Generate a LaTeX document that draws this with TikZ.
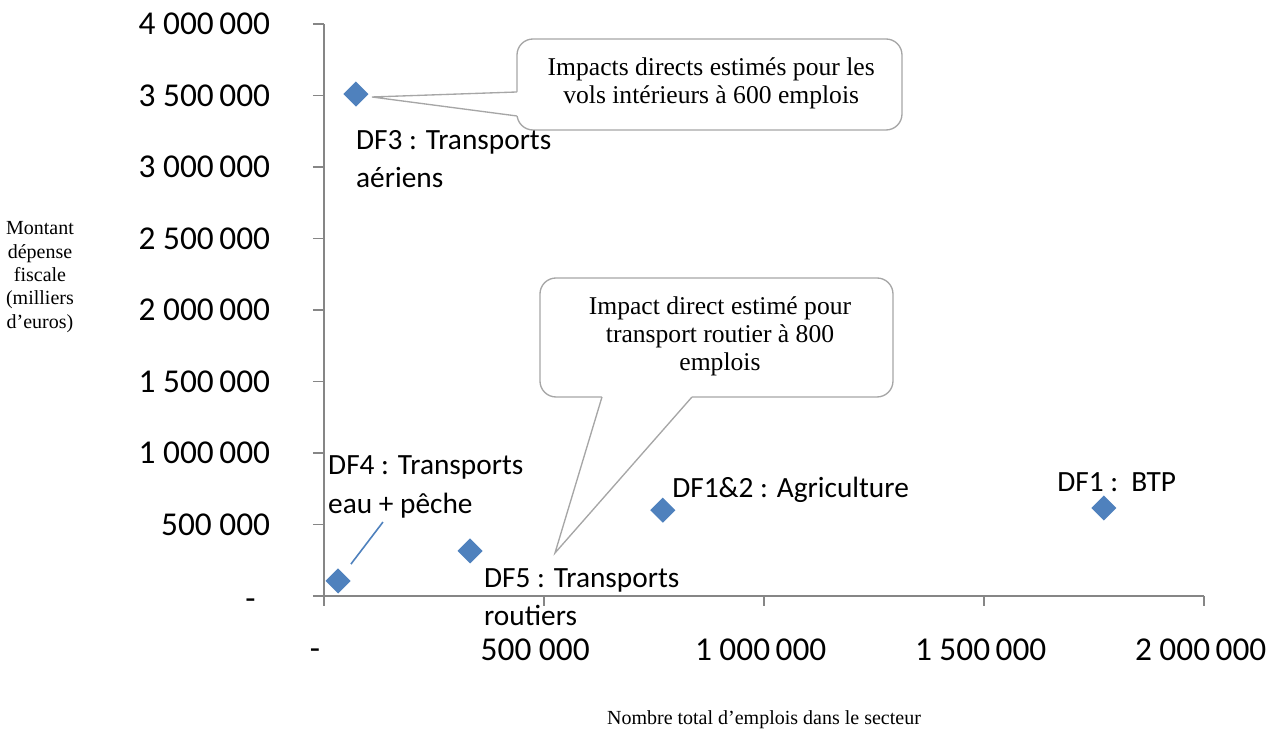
\documentclass[tikz,border=0pt]{standalone}
\usepackage{fontspec}
\setmainfont{Carlito}
\newfontfamily\serifcap{Liberation Serif}
\usetikzlibrary{shapes.geometric}
\definecolor{xlblue}{HTML}{4F81BD}
\definecolor{axisgray}{HTML}{868686}
\definecolor{bubblegray}{HTML}{A6A6A6}
\begin{document}
\begin{tikzpicture}[x=16.5pt,y=10.725pt,font=\fontsize{22}{27}\selectfont,
	axisline/.style={axisgray,line width=1.4pt},
	marker/.style={diamond,fill=xlblue,inner sep=0pt,minimum width=19pt,minimum height=19pt},
	numlabel/.style={inner sep=0pt,text=black,font=\fontsize{25}{30}\selectfont},
	ptlabel/.style={inner sep=0pt,align=left,font=\fontsize{22}{29}\selectfont},
	bubble/.style={bubblegray,line width=1pt,fill=white,rounded corners=12pt},
	bubbletext/.style={inner sep=0pt,align=center,font=\serifcap\fontsize{19.2}{21}\selectfont},
	axistitle/.style={inner sep=0pt,align=center,font=\serifcap\fontsize{15}{17.6}\selectfont}]
		\useasboundingbox (-14.727,-9.441) rectangle (42.955,41.678);
		% axes
		\draw[axisline] (-0.5,0)--(40,0) (0,-0.7)--(0,40);
		\foreach \y/\lab in {5/500~000,10/1~000\,000,15/1~500\,000,20/2~000\,000,25/2~500\,000,30/3~000\,000,35/3~500\,000,40/4~000\,000}
			\draw[axisline] (-0.5,\y)--(0,\y) (-2.41,\y) node[numlabel,anchor=east] (yl\y) {\lab};
		\node[numlabel,anchor=base east] (yl0) at (-3.1,-0.95) {-};
		\foreach \x/\lab in {20/1~000\,000,30/1~500\,000,40/2~000\,000}
			\draw[axisline] (\x,0)--(\x,-0.7) (\x-0.15,-3.78) node[numlabel] (xl\x) {\lab};
		\draw[axisline] (10,0)--(10,-0.7) (9.6,-3.78) node[numlabel] (xl10) {500~000};
		\node[numlabel,anchor=base] (xl0) at (-0.41,-4.45) {-};
		\node[axistitle] (ytitle) at (-12.91,22.3) {Montant\\dépense\\fiscale\\(milliers\\d’euros)};
		\node[axistitle] (xtitle) at (20,-8.67) {Nombre total d’emplois dans le secteur};
		% callouts
		\draw[bubble] (8.773,32.587) rectangle (26.273,38.951);
		\fill[white] (8.773,35.245)--(2.182,34.895)--(8.773,33.566)--(9.1,33.566)--(9.1,35.245)--cycle;
		\draw[bubblegray,line width=1pt] (8.773,35.245)--(2.182,34.895)--(8.773,33.566);
		\node[bubbletext] (c1) at (17.6,35.84) {Impacts directs estimés pour les\\vols intérieurs à 600 emplois};
		\draw[bubble] (9.818,13.916) rectangle (25.864,22.238);
		\fill[white] (12.636,13.916)--(10.5,3.007)--(16.727,13.916)--(16.727,14.4)--(12.636,14.4)--cycle;
		\draw[bubblegray,line width=1pt] (12.636,13.916)--(10.5,3.007)--(16.727,13.916);
		\node[bubbletext] (c2) at (18,18.18) {Impact direct estimé pour\\transport routier à 800\\emplois};
		% points
		\node[marker] (p3) at (1.45,35.1) {};
		\node[marker] (p4) at (0.64,1.05) {};
		\node[marker] (p5) at (6.64,3.15) {};
		\node[marker] (p12) at (15.4,6) {};
		\node[marker] (p1) at (35.45,6.15) {};
		\node[ptlabel,anchor=north west] (l3) at (1.45,32.6) {DF3 : Transports\\aériens};
		\node[ptlabel,anchor=north west] (l4) at (0.18,9.8) {DF4 : Transports\\eau + pêche};
		\node[ptlabel,anchor=north west] (l5) at (7.27,1.95) {DF5 : Transports\\routiers};
		\node[ptlabel,anchor=west] (l12) at (15.82,7.41) {DF1\&2 : Agriculture};
		\node[ptlabel,anchor=west] (l1) at (33.32,7.97) {DF1 :\ \ BTP};
		\coordinate (lead4) at (2.68,5.17);
		\draw[xlblue,line width=1.2pt,shorten >=9pt] (lead4)--(p4);
\end{tikzpicture}
\end{document}
